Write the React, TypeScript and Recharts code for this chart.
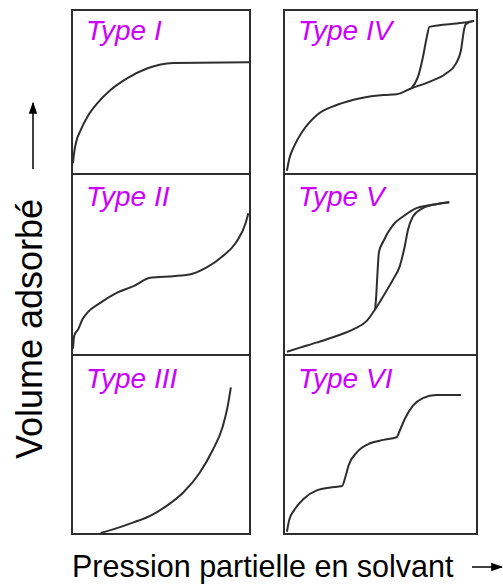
import { LineChart, Line, XAxis, YAxis } from "recharts";

// Isotherm shapes: p = relative pressure (0-100), v = adsorbed volume (0-100)
const typeI = [
  { p: 0, v: 6 }, { p: 0.4, v: 10.5 }, { p: 1.7, v: 18.7 }, { p: 4.5, v: 26.8 },
  { p: 8.3, v: 34.9 }, { p: 13.9, v: 43.1 }, { p: 21.3, v: 51.2 }, { p: 30.7, v: 58.4 },
  { p: 42, v: 64.5 }, { p: 56.9, v: 67.9 }, { p: 100, v: 68.3 },
];
const typeII = [
  { p: 0, v: 3 }, { p: 0.7, v: 10.2 }, { p: 3, v: 13.9 }, { p: 5.4, v: 19.4 },
  { p: 8.3, v: 23.2 }, { p: 15.7, v: 28.7 }, { p: 25.1, v: 34.3 }, { p: 34.4, v: 37.9 },
  { p: 43.8, v: 42.6 }, { p: 56.9, v: 43.5 }, { p: 66.3, v: 44.4 }, { p: 75.7, v: 48.2 },
  { p: 85, v: 54.6 }, { p: 92.5, v: 62.1 }, { p: 98.1, v: 73.2 }, { p: 99.6, v: 78.7 },
];
const typeIII = [
  { p: 15.7, v: 0 }, { p: 23.2, v: 2.2 }, { p: 34.4, v: 6 }, { p: 43.8, v: 9.7 },
  { p: 53.2, v: 15.3 }, { p: 62.5, v: 22.7 }, { p: 71.9, v: 33.9 }, { p: 79.4, v: 46.9 },
  { p: 85, v: 59.9 }, { p: 87.8, v: 71.1 }, { p: 89.7, v: 82.3 },
];
const typeIVAds = [
  { p: 1, v: 1.4 }, { p: 2.2, v: 8.5 }, { p: 4.8, v: 16.6 }, { p: 9.2, v: 25.8 },
  { p: 16.9, v: 36 }, { p: 27.3, v: 42.1 }, { p: 39.4, v: 46.2 }, { p: 51.5, v: 48.2 },
  { p: 58.4, v: 48.6 }, { p: 66.2, v: 52.3 }, { p: 75.6, v: 56.3 }, { p: 84.3, v: 61.4 },
  { p: 89.5, v: 67.5 }, { p: 92.1, v: 75.6 }, { p: 93.8, v: 88.8 }, { p: 94.7, v: 91.9 },
  { p: 99, v: 93.9 },
];
const typeIVDes = [
  { p: 66.2, v: 52.3 }, { p: 69.6, v: 59.3 }, { p: 72.2, v: 71.5 }, { p: 74.2, v: 83.7 },
  { p: 75.6, v: 90.2 }, { p: 92.9, v: 92.7 }, { p: 99, v: 93.9 },
];
const typeVAds = [
  { p: 1, v: 1.3 }, { p: 8.3, v: 3.7 }, { p: 16.9, v: 6.5 }, { p: 27.3, v: 10.2 },
  { p: 35.9, v: 13.9 }, { p: 42.8, v: 18.5 }, { p: 47.2, v: 25 }, { p: 51.5, v: 32.4 },
  { p: 56.6, v: 41.7 }, { p: 60.1, v: 49.1 }, { p: 62.7, v: 60.2 }, { p: 64.4, v: 69.4 },
  { p: 67, v: 76.8 }, { p: 72.2, v: 81.5 }, { p: 79.1, v: 83.7 }, { p: 86, v: 84.8 },
];
const typeVDes = [
  { p: 47.2, v: 25 }, { p: 47.8, v: 33 }, { p: 48.4, v: 45 }, { p: 49.2, v: 57 },
  { p: 51.5, v: 63 }, { p: 56.6, v: 72.2 }, { p: 61.8, v: 76.8 }, { p: 68.8, v: 81.5 },
  { p: 79.1, v: 83.7 }, { p: 86, v: 84.8 },
];
const typeVI = [
  { p: 1, v: 0.7 }, { p: 2.2, v: 7.3 }, { p: 4.8, v: 12.9 }, { p: 10, v: 19.5 },
  { p: 16.9, v: 24.2 }, { p: 23.8, v: 25.7 }, { p: 29.9, v: 26.6 }, { p: 31.6, v: 31.6 },
  { p: 33.3, v: 38.2 }, { p: 37.7, v: 45.7 }, { p: 44.6, v: 50.7 }, { p: 51.5, v: 52.6 },
  { p: 58.4, v: 54.1 }, { p: 60.1, v: 57.9 }, { p: 62.7, v: 64.4 }, { p: 67, v: 71.9 },
  { p: 72.2, v: 76.2 }, { p: 79.1, v: 77.9 }, { p: 92.1, v: 77.9 },
];

const panelLabels = ["Type I", "Type II", "Type III", "Type IV", "Type V", "Type VI"];
const panelSeries = [
  [typeI], [typeII], [typeIII],
  [typeIVAds, typeIVDes], [typeVAds, typeVDes], [typeVI],
];
const yTitle = "Volume adsorbé";
const xTitle = "Pression partielle en solvant";

// layout
const COLS = [{ left: 71, width: 180 }, { left: 283, width: 195 }];
const ROWS = [
  { top: 9, height: 166, labelDy: 31 },
  { top: 173, height: 183, labelDy: 33 },
  { top: 354, height: 181, labelDy: 34 },
];
const BORDER = 2;
const INK = "#2e2e2e";
const MAGENTA = "#cc00ff";
const FONT = "'Liberation Sans', Arial, sans-serif";

const Panel = ({ idx }: { idx: number }) => {
  const col = COLS[Math.floor(idx / 3)];
  const row = ROWS[idx % 3];
  const w = col.width - BORDER * 2;
  const h = row.height - BORDER * 2;
  return (
    <div
      style={{
        position: "absolute",
        left: col.left,
        top: row.top,
        width: col.width,
        height: row.height,
        boxSizing: "border-box",
        border: `${BORDER}px solid ${INK}`,
      }}
    >
      <LineChart width={w} height={h} margin={{ top: 0, right: 0, bottom: 0, left: 0 }}>
        <XAxis dataKey="p" type="number" domain={[0, 100]} hide allowDuplicatedCategory={false} />
        <YAxis type="number" domain={[0, 100]} hide />
        {panelSeries[idx].map((d, i) => (
          <Line
            key={i}
            data={d}
            dataKey="v"
            type="monotone"
            stroke={INK}
            strokeWidth={2}
            dot={false}
            isAnimationActive={false}
          />
        ))}
      </LineChart>
    </div>
  );
};

export default function App() {
  return (
    <div style={{ position: "absolute", left: 0, top: 0, width: 503, height: 584, background: "#fff" }}>
      {panelLabels.map((_, i) => (
        <Panel key={i} idx={i} />
      ))}
      <svg
        width={503}
        height={584}
        style={{ position: "absolute", left: 0, top: 0, pointerEvents: "none" }}
      >
        <defs>
          <marker id="head" viewBox="0 0 10 10" refX="9" refY="5" markerWidth="8" markerHeight="8" orient="auto">
            <path d="M0,1.5 L10,5 L0,8.5 z" fill="#000" />
          </marker>
        </defs>
        {panelLabels.map((t, i) => {
          const col = COLS[Math.floor(i / 3)];
          const row = ROWS[i % 3];
          return (
            <text
              key={t}
              x={col.left + 15}
              y={row.top + row.labelDy}
              fill={MAGENTA}
              fontFamily={FONT}
              fontStyle="italic"
              fontSize={28}
            >
              {t}
            </text>
          );
        })}
        <text
          transform="translate(42, 329) rotate(-90)"
          textAnchor="middle"
          fontFamily={FONT}
          fontSize={36}
          fill="#000"
        >
          {yTitle}
        </text>
        <line x1={33} y1={169} x2={33} y2={103} stroke="#000" strokeWidth={1.5} markerEnd="url(#head)" />
        <text x={72} y={577} fontFamily={FONT} fontSize={30.5} fill="#000">
          {xTitle}
        </text>
        <line x1={472} y1={567} x2={502} y2={567} stroke="#000" strokeWidth={1.5} markerEnd="url(#head)" />
      </svg>
    </div>
  );
}
